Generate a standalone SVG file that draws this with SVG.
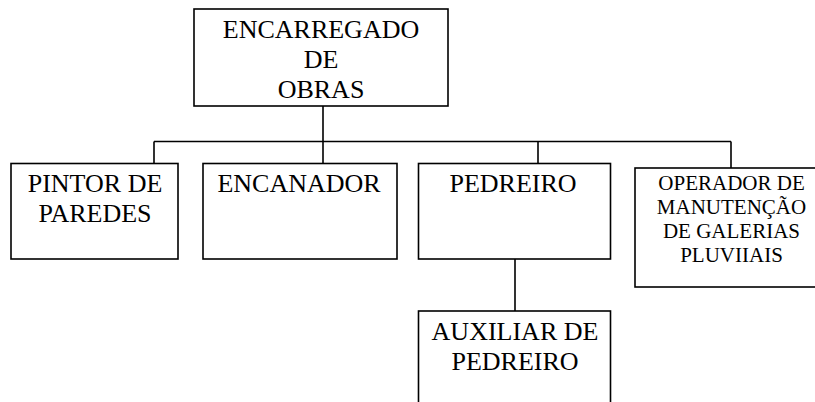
<svg xmlns="http://www.w3.org/2000/svg" width="815" height="402" viewBox="0 0 815 402">
<style>
.box{fill:#fff;stroke:#000;stroke-width:1.6}
.ln{fill:none;stroke:#000;stroke-width:1.6}
.t{font-family:"Liberation Serif","Times New Roman",serif;font-size:26px;fill:#000;text-anchor:middle}
.s{font-size:21px}
</style>
<rect width="815" height="402" fill="#fff"/>
<g id="connectors">
<path class="ln" d="M323,106 V141.5 M154,141.5 H731 M154,141.5 V163.5 M323,141.5 V163.5 M538,141.5 V163.5 M731,141.5 V168 M515,259 V311"/>
</g>
<g id="n-encarregado">
<rect class="box" x="194" y="9" width="254" height="97"/>
<text class="t" x="321" y="38">ENCARREGADO</text>
<text class="t" x="321" y="68">DE</text>
<text class="t" x="321" y="98">OBRAS</text>
</g>
<g id="n-pintor">
<rect class="box" x="11" y="163.5" width="167" height="95.5"/>
<text class="t" x="95" y="192">PINTOR DE</text>
<text class="t" x="95" y="222">PAREDES</text>
</g>
<g id="n-encanador">
<rect class="box" x="203" y="163.5" width="194" height="95.5"/>
<text class="t" x="299" y="192">ENCANADOR</text>
</g>
<g id="n-pedreiro">
<rect class="box" x="418.5" y="163.5" width="192" height="95.5"/>
<text class="t" x="513" y="192">PEDREIRO</text>
</g>
<g id="n-operador">
<rect class="box" x="635" y="168" width="194" height="119"/>
<text class="t s" x="731.5" y="190">OPERADOR DE</text>
<text class="t s" x="731.5" y="213.5">MANUTENÇÃO</text>
<text class="t s" x="731.5" y="237.5">DE GALERIAS</text>
<text class="t s" x="731.5" y="261.5">PLUVIIAIS</text>
</g>
<g id="n-auxiliar">
<rect class="box" x="418.5" y="311" width="192" height="120"/>
<text class="t" x="515" y="340">AUXILIAR DE</text>
<text class="t" x="515" y="370">PEDREIRO</text>
</g>
</svg>
